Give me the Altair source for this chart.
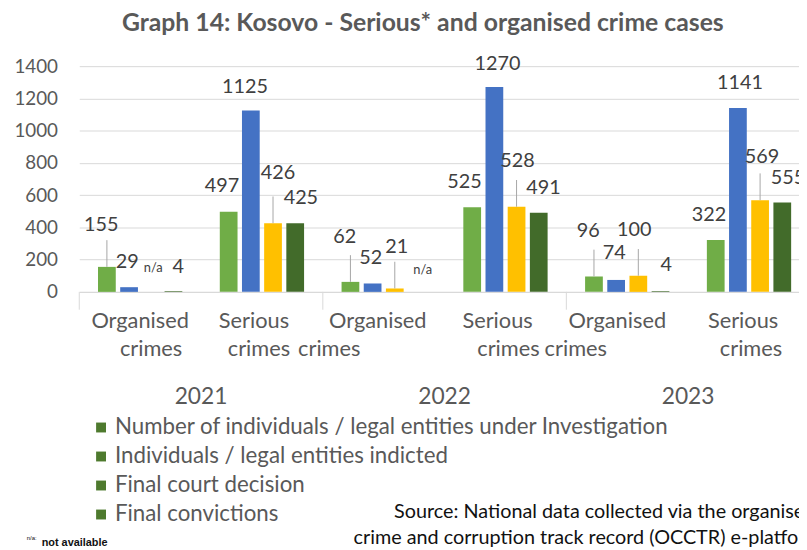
import altair as alt
import pandas as pd

# ---------------- data ----------------
categories = ["Organised crimes 2021", "Serious crimes 2021",
              "Organised crimes 2022", "Serious crimes 2022",
              "Organised crimes 2023", "Serious crimes 2023"]
cat_line1 = ["Organised", "Serious", "Organised", "Serious", "Organised", "Serious"]
cat_line2 = ["crimes", "crimes", "crimes", "crimes", "crimes", "crimes"]
years = ["2021", "2022", "2023"]

series = ["Number of individuals / legal entities under Investigation",
          "Individuals / legal entities indicted",
          "Final court decision",
          "Final convictions"]
investigation = [155, 497, 62, 525, 96, 322]
indicted = [29, 1125, 52, 1270, 74, 1141]
court_decision = [None, 426, 21, 528, 100, 569]
convictions = [4, 425, None, 491, 4, 555]

y_ticks = [0, 200, 400, 600, 800, 1000, 1200, 1400]

# ---------------- styles (pixel offsets of the hand-placed labels) ----------------
colors = ["#70AD47", "#4472C4", "#FFC000", "#426B2A"]
lift = [[42, 26, 45, 25, 46, 25],
        [25, 24, 26, 23, 27, 25],
        [24, 51, 42, 46, 46, 44],
        [24, 26, 22, 25, 26, 25]]
shift = [[0, -1, 0, -2, 0, -1],
         [0, -4, 0, 5, 0, 4],
         [0, 3, 0, -1, -6, 0],
         [-1, 0, 0, -1, 0, 0]]
leader = [[True, False, True, False, True, False],
          [False] * 6,
          [False, True, True, True, True, True],
          [False] * 6]
line1_dx = [0, -8, -6, -8, -10, -6]
line2_dx = [11, -3, -55, 3, -52, 2]
HALF_BAND = 61.5
LEGEND_TOP = 365
LEGEND_STEP = 29.3

GRAY = "#595959"
FONT = "Lato"

values = [investigation, indicted, court_decision, convictions]
rows = []
for si, s in enumerate(series):
    for ci, c in enumerate(categories):
        v = values[si][ci]
        rows.append({
            "category": c, "series": s,
            "value": v if v is not None else 0,
            "label": str(v) if v is not None else "n/a",
            "na": v is None,
            "lift": -lift[si][ci],
            "shift": shift[si][ci],
            "leader": leader[si][ci],
        })
df = pd.DataFrame(rows)

cat_df = pd.DataFrame({"category": categories, "line1": cat_line1, "line2": cat_line2,
                       "dx1": [d + HALF_BAND for d in line1_dx],
                       "dx2": [d + HALF_BAND for d in line2_dx]})
year_df = pd.DataFrame({"category": categories[0::2], "year": years})

x_scale = alt.Scale(domain=categories, range=[0, 738], paddingInner=0, paddingOuter=0)
xo_scale = alt.Scale(domain=series, paddingInner=0.2, paddingOuter=0.845)
y_scale = alt.Scale(domain=[0, 1400])

x_axis = alt.Axis(title=None, labels=False, ticks=False, domain=True,
                  domainColor="#d9d9d9", grid=False)
y_axis = alt.Axis(title=None, values=y_ticks, domain=False, ticks=False, format="d",
                  labelOverlap=False, grid=True,
                  gridColor="#d9d9d9", labelFontSize=19, labelColor=GRAY,
                  labelFont=FONT, labelPadding=22)
X = alt.X("category:N", scale=x_scale, sort=categories, axis=x_axis)
Y = alt.Y("value:Q", scale=y_scale, axis=y_axis)
XO = alt.XOffset("series:N", scale=xo_scale, sort=series)

base = alt.Chart(df)

bars = base.transform_filter("!datum.na").mark_bar().encode(
    x=X, y=Y, xOffset=XO,
    color=alt.Color("series:N", scale=alt.Scale(domain=series, range=colors), legend=None),
)

leaders = base.transform_filter("datum.leader").mark_rule(
    color="#a6a6a6", strokeWidth=1, y2Offset=-27
).encode(x=X, xOffset=XO, y=Y, y2=alt.Y2("value:Q"))

label_layers = []
pairs = sorted(set(zip(df["lift"], df["shift"], df["na"])))
for lv, sv, na in pairs:
    cond = f"datum.lift == {lv} && datum.shift == {sv} && " + ("datum.na" if na else "!datum.na")
    label_layers.append(
        base.transform_filter(cond).mark_text(
            font=FONT, fontSize=13 if na else 20, color="#404040", baseline="middle",
            dy=int(lv), dx=int(sv)
        ).encode(x=X, xOffset=XO, y=Y, text="label:N")
    )

seps = alt.Chart(year_df).mark_rule(color="#d9d9d9").encode(
    x=alt.X("category:N", scale=x_scale, bandPosition=0, axis=x_axis),
    y=alt.value(228), y2=alt.value(246))

cat_l1 = alt.Chart(cat_df).mark_text(font=FONT, fontSize=22, color=GRAY, baseline="alphabetic").encode(
    x=X, xOffset=alt.XOffset("dx1:Q", scale=None),
    y=alt.value(264), text="line1:N")
cat_l2 = alt.Chart(cat_df).mark_text(font=FONT, fontSize=22, color=GRAY, baseline="alphabetic").encode(
    x=X, xOffset=alt.XOffset("dx2:Q", scale=None),
    y=alt.value(293), text="line2:N")
year_txt = alt.Chart(year_df).mark_text(font=FONT, fontSize=23, color=GRAY, baseline="alphabetic").encode(
    x=alt.X("category:N", scale=x_scale, bandPosition=1, axis=x_axis),
    y=alt.value(341), text="year:N")

# legend (all markers dark green as in the original)
legend_layers = []
for i, s in enumerate(series):
    ldf = pd.DataFrame({"item": [s]})
    yy = LEGEND_TOP + i * LEGEND_STEP
    legend_layers.append(alt.Chart(ldf).mark_square(size=100, color="#4E7A2E", opacity=1).encode(
        x=alt.value(22), y=alt.value(yy)))
    legend_layers.append(alt.Chart(ldf).mark_text(
        font=FONT, fontSize=22.5, color=GRAY, align="left", baseline="middle").encode(
        x=alt.value(36), y=alt.value(yy), text="item:N"))

title = alt.Chart(pd.DataFrame({"t": ["Graph 14: Kosovo - Serious* and organised crime cases"]})).mark_text(
    font=FONT, fontSize=25, fontWeight="bold", color=GRAY, align="center", baseline="alphabetic"
).encode(x=alt.value(347), y=alt.value(-36), text="t:N")

src_lines = ["Source: National data collected via the organised",
             "crime and corruption track record (OCCTR) e-platform"]
source_layers = [
    alt.Chart(pd.DataFrame({"t": [src_lines[0]]})).mark_text(
        font=FONT, fontSize=20, color="#111111", align="left", baseline="alphabetic"
    ).encode(x=alt.value(318), y=alt.value(456), text="t:N"),
    alt.Chart(pd.DataFrame({"t": [src_lines[1]]})).mark_text(
        font=FONT, fontSize=20, color="#111111", align="left", baseline="alphabetic"
    ).encode(x=alt.value(277), y=alt.value(483), text="t:N"),
]

foot1 = alt.Chart(pd.DataFrame({"t": ["n/a:"]})).mark_text(
    font="Liberation Sans", fontSize=6, color="#111111", align="left", baseline="alphabetic"
).encode(x=alt.value(-53), y=alt.value(479), text="t:N")
foot2 = alt.Chart(pd.DataFrame({"t": ["not available"]})).mark_text(
    font="Liberation Sans", fontSize=11, fontWeight="bold", color="#111111", align="left",
    baseline="alphabetic"
).encode(x=alt.value(-38), y=alt.value(485), text="t:N")

# note: .configure(...) first, since it replaces the whole config object
chart = alt.layer(
    bars, leaders, *label_layers, seps, cat_l1, cat_l2, year_txt, *legend_layers,
    title, *source_layers, foot1, foot2
).resolve_scale(xOffset="independent").properties(
    width=727, height=228,
    autosize=alt.AutoSizeParams(type="none"),
    padding={"left": 72, "top": 56, "right": 0, "bottom": 258},
).configure(font=FONT).configure_view(stroke=None, strokeWidth=0).configure_axisX(
    grid=False
).configure_axisY(domain=False, ticks=False)

chart.save("out.html", embed_options={"renderer": "svg", "actions": False})
